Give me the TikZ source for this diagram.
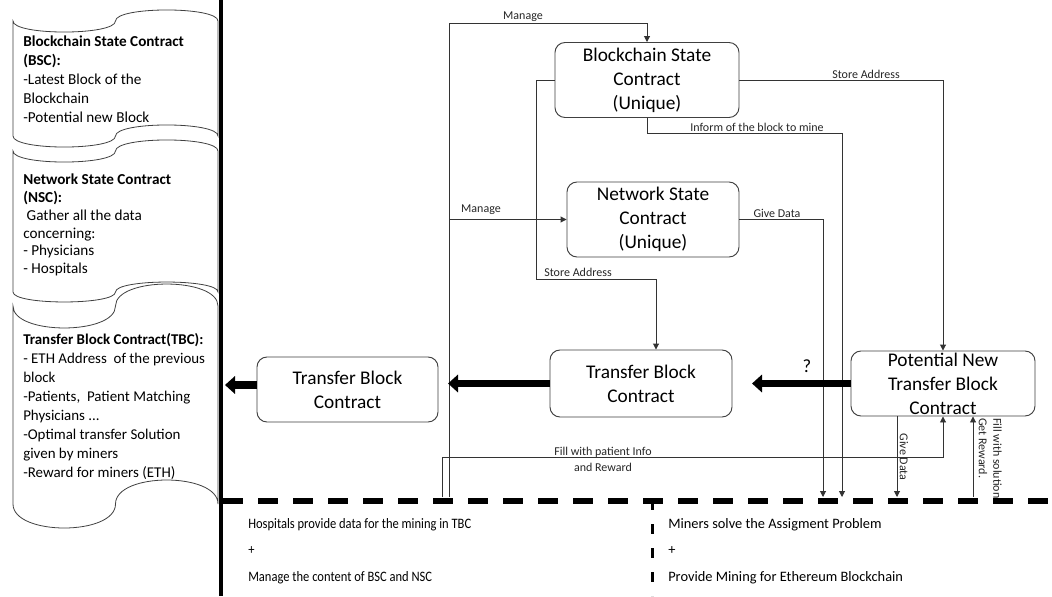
\documentclass[tikz,border=0pt]{standalone}
\usepackage{fontspec}
\setmainfont{Carlito}
\usetikzlibrary{arrows.meta}
\begin{document}
\begin{tikzpicture}[x=0.75pt,y=-0.75pt,
  scrollbox/.style={draw=black!75, line width=0.6pt, fill=white},
  box/.style={draw=black!75, line width=0.7pt, rounded corners=7.5pt, fill=white, align=center,
     inner sep=0pt, font=\fontsize{14.5}{18}\selectfont},
  conn/.style={draw=black!80, line width=0.7pt},
  tip/.style={-{Triangle[length=4.5pt,width=4.5pt]}},
  bigarrow/.style={draw=black, line width=5.5pt, -{Triangle[length=7.5pt,width=13pt]}},
  lbl/.style={font=\fontsize{9}{10.5}\selectfont, inner sep=0pt, text=black!85, align=center},
  scrolltext/.style={anchor=north west, inner sep=0pt, align=left},
  bottomtext/.style={anchor=north west, inner sep=0pt, align=left, font=\fontsize{10.5}{20}\selectfont}
]
\useasboundingbox[fill=white] (0,0) rectangle (1052,596);

% ---- scrolls (punched tape shapes)
\draw[scrollbox] (13,21) .. controls (13,35.7) and (115.5,35.7) .. (115.5,21)
  .. controls (115.5,6.3) and (218,6.3) .. (218,21) -- (218,136)
  .. controls (218,121.3) and (115.5,121.3) .. (115.5,136)
  .. controls (115.5,150.7) and (13,150.7) .. (13,136) -- cycle;
\draw[scrollbox] (13,151) .. controls (13,165.7) and (115.5,165.7) .. (115.5,151)
  .. controls (115.5,136.3) and (218,136.3) .. (218,151) -- (218,292)
  .. controls (218,278.7) and (115.5,278.7) .. (115.5,292)
  .. controls (115.5,305.3) and (13,305.3) .. (13,292) -- cycle;
\draw[scrollbox] (13,306) .. controls (13,335.3) and (115.5,335.3) .. (115.5,306)
  .. controls (115.5,276.7) and (218,276.7) .. (218,306) -- (218,504)
  .. controls (218,472) and (115.5,472) .. (115.5,504)
  .. controls (115.5,536) and (13,536) .. (13,504) -- cycle;

\node[scrolltext, font=\fontsize{11.4}{14.25}\selectfont] (t1) at (23,36)
  {\textbf{Blockchain State Contract}\\\textbf{(BSC):}\\-Latest Block of the\\Blockchain\\-Potential new Block};
\node[scrolltext, font=\fontsize{11.4}{13.3}\selectfont] (t2) at (23,174)
  {\textbf{Network State Contract}\\\textbf{(NSC):}\\\ Gather all the data\\concerning:\\- Physicians\\- Hospitals};
\node[scrolltext, font=\fontsize{11.2}{14.25}\selectfont] (t3) at (23,333)
  {\textbf{Transfer Block Contract(TBC):}\\- ETH Address\ \ of the previous\\block\\-Patients,\ \ Patient Matching\\Physicians ...\\-Optimal transfer Solution\\given by miners\\-Reward for miners (ETH)};

% ---- thick vertical separator
\draw[line width=3pt] (221,0) -- (221,596);

% ---- boxes
\node[box, minimum width=138pt, minimum height=56.25pt] (bsc) at (647,80)
  {Blockchain State\\Contract\\(Unique)};
\node[box, minimum width=129pt, minimum height=56.25pt] (nsc) at (653,219.5)
  {Network State\\Contract\\(Unique)};
\node[box, minimum width=136.5pt, minimum height=50.25pt] (mtbc) at (641,383.5)
  {Transfer Block\\Contract};
\node[box, minimum width=135.75pt, minimum height=48.75pt] (ltbc) at (347.5,389.5)
  {Transfer Block\\Contract};
\node[box, minimum width=138pt, minimum height=48.75pt] (pot) at (943,383.5)
  {Potential New\\Transfer Block\\Contract};

% ---- coordinates
\coordinate (mL) at (449,497);
\coordinate (mTop) at (449,23);
\coordinate (sa) at (536,279);
\coordinate (sb) at (656,279);
\coordinate (ib) at (842,133);
\coordinate (ie) at (842,497);
\coordinate (ge) at (823,497);
\coordinate (fL) at (442,497);
\coordinate (fT) at (442,457);
\coordinate (gd) at (897,497);
\coordinate (fs) at (973,497);
\coordinate (q1) at (752,383.5);
\coordinate (q2) at (448,383.5);
\coordinate (q3) at (225,385);

% ---- connectors
\draw[conn, tip] (mL) -- (mTop) -| (bsc.north);
\draw[conn, tip] (mL |- nsc.west) -- (nsc.west);
\draw[conn, tip] (bsc.west) -| (sa) -- (sb) -- (sb |- mtbc.north);
\draw[conn, tip] (bsc.south) |- (ib) -- (ie);
\draw[conn, tip] (bsc.east) -| (pot.north);
\draw[conn, tip] (nsc.east) -| (ge);
\draw[conn, tip] (fL) -- (fT) -| (pot.south);
\draw[conn, tip] (gd |- pot.south) -- (gd);
\draw[conn, tip] (fs) -- (fs |- pot.south);

\draw[bigarrow] (pot.west) -- (q1);
\draw[bigarrow] (mtbc.west) -- (q2);
\draw[bigarrow] (ltbc.west |- q3) -- (q3);

% ---- labels
\node[lbl] (l1) at (523,17) {Manage};
\node[lbl] (l2) at (866,74) {Store Address};
\node[lbl] (l3) at (757,127) {Inform of the block to mine};
\node[lbl] (l4) at (481,210) {Manage};
\node[lbl] (l5) at (777,213) {Give Data};
\node[lbl] (l6) at (578,272) {Store Address};
\node[lbl, font=\fontsize{9}{12}\selectfont] (l7) at (603,459) {Fill with patient Info\\and Reward};
\node[font=\fontsize{14}{16}\selectfont, inner sep=0pt] (l8) at (807,366) {?};
\node[lbl, rotate=-90] (l9) at (904,457) {Give Data};
\node[lbl, rotate=-90, align=left, anchor=north west, font=\fontsize{9}{11}\selectfont] (l10) at (1002,418) {Fill with solution\\Get Reward.};

% ---- dashed separators
\draw[line width=4.5pt, dash pattern=on 15pt off 11.25pt] (223,501) -- (1052,501);
\draw[line width=2.25pt, dash pattern=on 7.5pt off 10.5pt] (652,500) -- (652,596);

% ---- bottom texts
\node[bottomtext, font=\fontsize{10.8}{20}\selectfont\addfontfeatures{FakeStretch=0.87}] (h) at (248,518) {Hospitals provide data for the mining in TBC\\+\\Manage the content of BSC and NSC};
\node[bottomtext, font=\fontsize{10.8}{20}\selectfont] (m) at (668,518) {Miners solve the Assigment Problem\\+\\Provide Mining for Ethereum Blockchain};
\end{tikzpicture}
\end{document}
